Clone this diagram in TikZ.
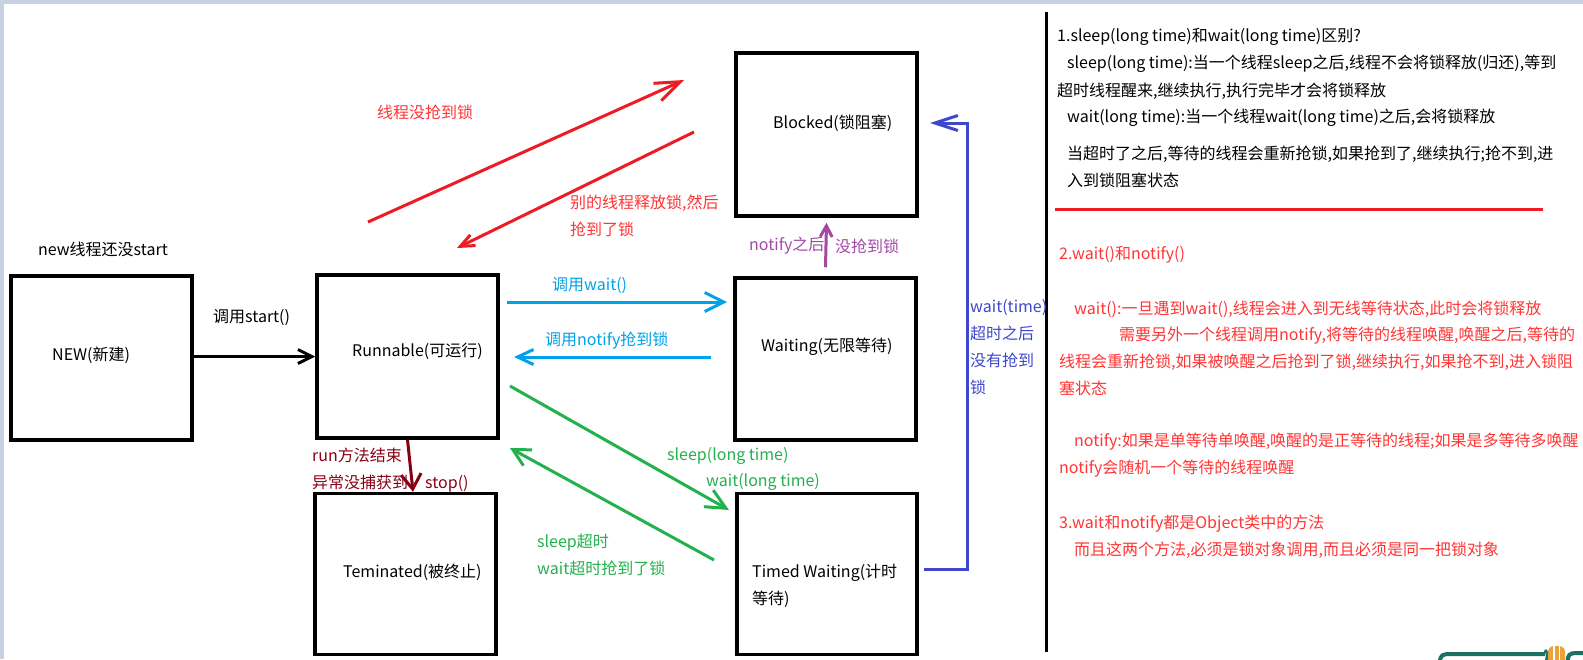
\documentclass[tikz,border=0pt]{standalone}
\usepackage{fontspec}
\setmainfont{Noto Sans CJK SC}
\usetikzlibrary{arrows.meta,calc}
\definecolor{pred}{HTML}{ED1C24}
\definecolor{tred}{HTML}{FF3535}
\definecolor{pblue}{HTML}{00A2E8}
\definecolor{pgreen}{HTML}{22B14C}
\definecolor{ppurple}{HTML}{A349A4}
\definecolor{pdred}{HTML}{880015}
\definecolor{pindigo}{HTML}{3F48CC}
\definecolor{edgec}{HTML}{C8D1E1}
\definecolor{wteal}{HTML}{1B7260}
\definecolor{worange}{HTML}{E9A23B}
\begin{document}
\begin{tikzpicture}[x=1pt,y=-1pt,
  box/.style={draw=black,line width=3.5pt,inner sep=0pt},
  txt/.style={anchor=west,inner sep=0pt,font=\fontsize{16}{27}\selectfont,align=left},
  arr/.style={line width=3pt},
  barb/.style args={#1/#2}{-{Straight Barb[length=#1pt,width=#2pt]}},
]
\useasboundingbox (0,0) rectangle (1583,659);
\fill[white] (0,0) rectangle (1583,659);
\fill[edgec] (0,0) rectangle (1583,4);
\fill[edgec] (0,0) rectangle (4,659);

% divider and red rule
\coordinate (d1) at (1046,12);
\coordinate (d2) at (1046,652);
\draw[line width=3pt,black] (d1) -- (d2);
\coordinate (h1) at (1055,209);
\coordinate (h2) at (1543,209);
\draw[line width=3pt,pred] (h1) -- (h2);

% boxes
\node[box,minimum width=181pt,minimum height=164pt] (new) at (101.5,358) {};
\node[box,minimum width=181pt,minimum height=163pt] (run) at (407.5,356.5) {};
\node[box,minimum width=181pt,minimum height=161pt] (term) at (405.5,574) {};
\node[box,minimum width=181pt,minimum height=163pt] (blk) at (826.5,134.5) {};
\node[box,minimum width=181pt,minimum height=162pt] (wait) at (825.5,359) {};
\node[box,minimum width=180pt,minimum height=161pt] (timed) at (827,574) {};

% box texts
\node[txt] (tnew) at (52,355) {NEW(新建)};
\node[txt] (trun) at (352,351) {Runnable(可运行)};
\node[txt] (tterm) at (343,572) {Teminated(被终止)};
\node[txt] (tblk) at (773,123) {Blocked(锁阻塞)};
\node[txt] (twait) at (761,347) {Waiting(无限等待)};
\node[txt] (ttimed) at (752,586) {Timed Waiting(计时\\等待)};

% labels
\node[txt] (lnew) at (38,249) {new线程还没start};
\node[txt] (lstart) at (213,318) {调用start()};
\node[txt,text=tred] (lnolock) at (377,112) {线程没抢到锁};
\node[txt,text=tred] (lother) at (570,216) {别的线程释放锁,然后\\抢到了锁};
\node[txt,text=pblue] (lwait) at (552,286) {调用wait()};
\node[txt,text=pblue] (lnotify) at (545,341) {调用notify抢到锁};
\node[txt,text=ppurple] (lnot1) at (749,246) {notify之后};
\node[txt,text=ppurple] (lnot2) at (835,246) {没抢到锁};
\node[txt,text=pindigo] (lwt) at (970,347) {wait(time)\\超时之后\\没有抢到\\锁};
\node[txt,text=pgreen] (lsl) at (667,456) {sleep(long time)};
\node[txt,text=pgreen] (lwl) at (706,482) {wait(long time)};
\node[txt,text=pdred] (lrun) at (312,470) {run方法结束\\异常没捕获到\hspace{17pt}stop()};
\node[txt,text=pgreen] (lsto) at (537,555) {sleep超时\\wait超时抢到了锁};

% connectors
\coordinate (r1a) at (368,222);
\coordinate (r1b) at (684,80);
\coordinate (r2a) at (694,132);
\coordinate (r2b) at (457,248);
\coordinate (b1a) at (507,302);
\coordinate (b1b) at (727,302);
\coordinate (b2a) at (711,357);
\coordinate (b2b) at (514,357);
\coordinate (g1a) at (510,386);
\coordinate (g1b) at (729,510);
\coordinate (g2a) at (714,560);
\coordinate (g2b) at (510,448);
\coordinate (pu) at ($(blk.south)+(0,5)$);
\coordinate (pw) at ($(wait.north)+(0,-9)$);
\coordinate (ix1) at (967,569);
\coordinate (ix2) at (967,123);
\coordinate (itip) at (930,123);

\draw[arr,black,barb=14/14] (new.east |- run.west) -- (run.west);
\draw[arr,pred,barb=25/19] (r1a) -- (r1b);
\draw[arr,pred,barb=14/12] (r2a) -- (r2b);
\draw[arr,pblue,barb=19/19] (b1a) -- (b1b);
\draw[arr,pblue,barb=16/15] (b2a) -- (b2b);
\draw[arr,ppurple,barb=11/12] (pw) -- (pu);
\draw[arr,pdred,barb=15/20] (run.south) -- ($(term.north)+(7.5,0)$);
\draw[arr,pgreen,barb=20/19] (g1a) -- (g1b);
\draw[arr,pgreen,barb=17/18] (g2a) -- (g2b);
\draw[arr,pindigo,barb=23/15] ($(timed.east)+(5,-5)$) -- (ix1) -- (ix2) -- (itip);

% right panel
\node[txt] (p1) at (1057,37) {1.sleep(long time)和wait(long time)区别?};
\node[txt] (p2) at (1067,64) {sleep(long time):当一个线程sleep之后,线程不会将锁释放(归还),等到};
\node[txt] (p3) at (1057,91) {超时线程醒来,继续执行,执行完毕才会将锁释放};
\node[txt] (p4) at (1067,118) {wait(long time):当一个线程wait(long time)之后,会将锁释放};
\node[txt] (p5) at (1067,154) {当超时了之后,等待的线程会重新抢锁,如果抢到了,继续执行;抢不到,进};
\node[txt] (p6) at (1067,180) {入到锁阻塞状态};
\node[txt,text=tred] (q1) at (1059,255) {2.wait()和notify()};
\node[txt,text=tred] (q2) at (1074,309) {wait():一旦遇到wait(),线程会进入到无线等待状态,此时会将锁释放};
\node[txt,text=tred] (q3) at (1119,336) {需要另外一个线程调用notify,将等待的线程唤醒,唤醒之后,等待的};
\node[txt,text=tred] (q4) at (1059,362) {线程会重新抢锁,如果被唤醒之后抢到了锁,继续执行,如果抢不到,进入锁阻};
\node[txt,text=tred] (q5) at (1059,388) {塞状态};
\node[txt,text=tred] (q6) at (1074,442) {notify:如果是单等待单唤醒,唤醒的是正等待的线程;如果是多等待多唤醒};
\node[txt,text=tred] (q7) at (1059,469) {notify会随机一个等待的线程唤醒};
\node[txt,text=tred] (q8) at (1059,524) {3.wait和notify都是Object类中的方法};
\node[txt,text=tred] (q9) at (1074,550) {而且这两个方法,必须是锁对象调用,而且必须是同一把锁对象};

% bottom-right widget fragment
\begin{scope}
\clip (0,0) rectangle (1583,659);
\draw[wteal,line width=4pt] (1440,662) .. controls (1440,655) and (1443,654) .. (1450,654) -- (1545,654);
\draw[wteal,line width=3pt] (1545,650) .. controls (1548,654) .. (1546,662);
\fill[worange,rounded corners=6pt] (1548,646) rectangle (1565,670);
\draw[white,line width=1.5pt] (1554,646) -- (1554,662);
\draw[white,line width=1.5pt] (1559.5,646) -- (1559.5,662);
\draw[wteal,line width=4pt] (1568,662) .. controls (1567,655) and (1570,653) .. (1576,653) -- (1586,653);
\end{scope}
\end{tikzpicture}
\end{document}
